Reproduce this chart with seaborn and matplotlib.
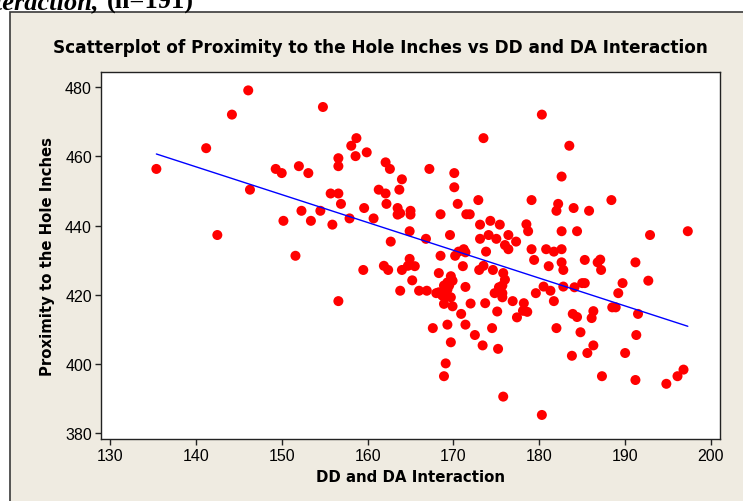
import matplotlib
matplotlib.use("Agg")
import matplotlib.pyplot as plt
from matplotlib.patches import Rectangle
import pandas as pd
import seaborn as sns

# values
dd_da = [
    146.1, 144.2, 141.2, 135.4, 149.3, 150.0, 152.0, 153.1, 146.3, 152.3, 154.5, 150.2, 153.4, 142.5, 151.6, 154.8,
    173.5, 158.7, 158.1, 158.6, 159.9, 156.6, 156.6, 162.1, 162.6, 167.2, 170.1, 164.0, 170.1, 161.3, 162.1,
    163.7, 155.7, 156.6, 156.9, 155.9, 157.9, 159.6, 160.7, 162.2, 163.5, 163.5, 163.8, 165.0, 165.0, 168.5,
    170.5, 172.9, 171.5, 171.9, 164.9, 162.7, 166.8, 169.6, 173.1, 174.3, 175.4, 173.1, 174.1, 175.0, 176.4,
    177.3, 176.0, 176.4, 173.8, 168.5, 170.2, 170.6, 171.2, 171.4, 164.9,
    180.3, 183.5, 182.6, 179.1, 182.2, 182.0, 184.0, 185.8, 188.4, 178.5, 178.7, 182.6, 184.4, 192.9, 197.3,
    179.1, 180.8, 181.7, 182.6,
    179.4, 182.6, 181.1, 182.8, 185.3, 186.8, 187.1, 187.2, 191.2, 192.7, 189.7, 189.2, 175.8, 176.0, 175.7,
    175.3, 174.8, 175.7, 175.7, 175.1, 179.6, 180.5, 181.3, 182.8, 184.1, 185.0, 185.3, 176.9, 178.2, 178.1,
    178.6, 177.4, 181.7, 183.9, 184.4, 186.3, 186.1, 188.5, 188.9, 191.5, 182.0, 184.8, 191.3, 186.3, 185.6,
    183.8, 190.0, 187.3, 191.2, 194.8, 196.1, 196.8, 180.3, 175.8,
    156.6, 159.5, 161.9, 162.4, 164.0, 164.7, 165.5, 165.2, 163.8, 166.0, 166.9, 168.3, 171.1, 171.4, 172.0,
    170.9, 173.0, 173.5, 174.6, 173.7, 167.6, 169.3, 171.4, 174.5, 172.5, 169.7, 173.4, 175.2, 169.1, 168.9,
    169.7, 169.9, 169.3, 168.9, 169.5, 169.3, 168.3, 168.0, 168.7, 169.1, 169.7, 168.9, 169.9,
]
proximity = [
    479.1, 472.1, 462.4, 456.4, 456.4, 455.2, 457.2, 455.2, 450.4, 444.3, 444.3, 441.4, 441.4, 437.3, 431.3, 474.3,
    465.3, 465.3, 463.1, 460.1, 461.2, 459.5, 457.2, 458.3, 456.4, 456.4, 455.2, 453.4, 451.1, 450.4, 449.3,
    450.4, 449.3, 449.3, 446.3, 440.3, 442.1, 445.1, 442.1, 446.3, 445.1, 443.2, 443.6, 444.3, 443.2, 443.3,
    446.3, 447.4, 443.3, 443.3, 438.4, 435.4, 436.2, 437.3, 440.3, 441.4, 440.3, 436.2, 437.3, 436.2, 437.3,
    435.4, 434.4, 433.2, 432.5, 431.3, 431.3, 432.5, 433.2, 432.3, 430.4,
    472.1, 463.1, 454.2, 447.4, 446.3, 444.3, 445.1, 444.3, 447.4, 440.4, 438.4, 438.4, 438.4, 437.3, 438.4,
    433.2, 433.2, 432.5, 433.2,
    430.1, 429.4, 428.3, 427.2, 430.1, 429.4, 430.2, 427.2, 429.4, 424.1, 423.4, 420.5, 426.3, 424.4, 422.7,
    422.2, 420.5, 420.5, 419.3, 415.2, 420.5, 422.4, 421.2, 422.4, 422.2, 423.4, 423.4, 418.2, 417.6, 415.4,
    415.1, 413.5, 418.2, 414.5, 413.6, 415.3, 413.3, 416.4, 416.4, 414.5, 410.4, 409.2, 408.4, 405.4, 403.2,
    402.4, 403.2, 396.5, 395.4, 394.3, 396.5, 398.4, 385.3, 390.6,
    418.2, 427.2, 428.4, 427.2, 427.2, 428.4, 428.3, 424.2, 421.2, 421.2, 421.2, 426.3, 428.3, 422.3, 417.5,
    414.5, 427.2, 428.4, 427.2, 417.6, 410.4, 411.4, 411.4, 410.4, 408.4, 406.3, 405.4, 404.4, 400.2, 396.5,
    425.4, 424.1, 423.6, 422.7, 422.7, 421.5, 420.75, 420.5, 419.8, 419.5, 419.3, 417.4, 416.7,
]
x_ticks = [130, 140, 150, 160, 170, 180, 190, 200]
y_ticks = [380, 400, 420, 440, 460, 480]

title = "Scatterplot of Proximity to the Hole Inches vs DD and DA Interaction"
x_label = "DD and DA Interaction"
y_label = "Proximity to the Hole Inches"

sns.set_theme(style="white")
plt.rcParams['font.family'] = ['DejaVu Sans']
plt.rcParams['text.color'] = 'black'
plt.rcParams['axes.labelcolor'] = 'black'
plt.rcParams['xtick.color'] = 'black'
plt.rcParams['ytick.color'] = 'black'

df = pd.DataFrame({x_label: dd_da, y_label: proximity})

fig = plt.figure(figsize=(7.43, 5.02), dpi=100, facecolor='white')

# Minitab graph window behind the plot
frame = Rectangle((10 / 743, -0.1), 1.2, 1.1 - 13 / 502, transform=fig.transFigure,
                  facecolor='#EFEBE1', edgecolor='#3a3a3a', lw=1.2, zorder=-10)
fig.patches.append(frame)

# caption of the document, cut off at the top
fig.text(99 / 743, 1 - 9 / 502, "Interaction,", family=['Liberation Serif', 'DejaVu Serif'],
         weight='bold', style='italic', fontsize=19, va='baseline', ha='right')
fig.text(107 / 743, 1 - 9 / 502, "(n=191)", family=['Liberation Serif', 'DejaVu Serif'],
         weight='bold', fontsize=19, va='baseline', ha='left')

ax = fig.add_axes([101 / 743, 62 / 502, 619 / 743, 367.3 / 502])
ax.set_facecolor('white')

sns.scatterplot(data=df, x=x_label, y=y_label, color='#FF0000', s=52, linewidth=0,
                edgecolor='none', ax=ax, zorder=2)
sns.regplot(data=df, x=x_label, y=y_label, scatter=False, ci=None, color='#0000FF',
            line_kws={'lw': 1.0, 'zorder': 3}, ax=ax)

ax.set_xlim(128.95, 201.05)
ax.set_ylim(378.35, 484.5)
ax.set_xticks(x_ticks)
ax.set_yticks(y_ticks)
ax.tick_params(axis='both', direction='out', length=4.5, width=1, color='#222222',
               labelsize=11.5, pad=2, bottom=True, left=True)
for lab in ax.get_xticklabels() + ax.get_yticklabels():
    lab.set_family(['Liberation Sans', 'DejaVu Sans'])
for sp in ax.spines.values():
    sp.set_color('#222222')
    sp.set_linewidth(1.0)

ax.set_xlabel(x_label, fontsize=10.8, weight='bold', labelpad=4)
ax.set_ylabel(y_label, fontsize=10.7, weight='bold', labelpad=7)
fig.text(380 / 743, 1 - 48 / 502, title, fontsize=12.2, weight='bold', ha='center', va='center')

fig.savefig("out.png", dpi=100, facecolor=fig.get_facecolor())
